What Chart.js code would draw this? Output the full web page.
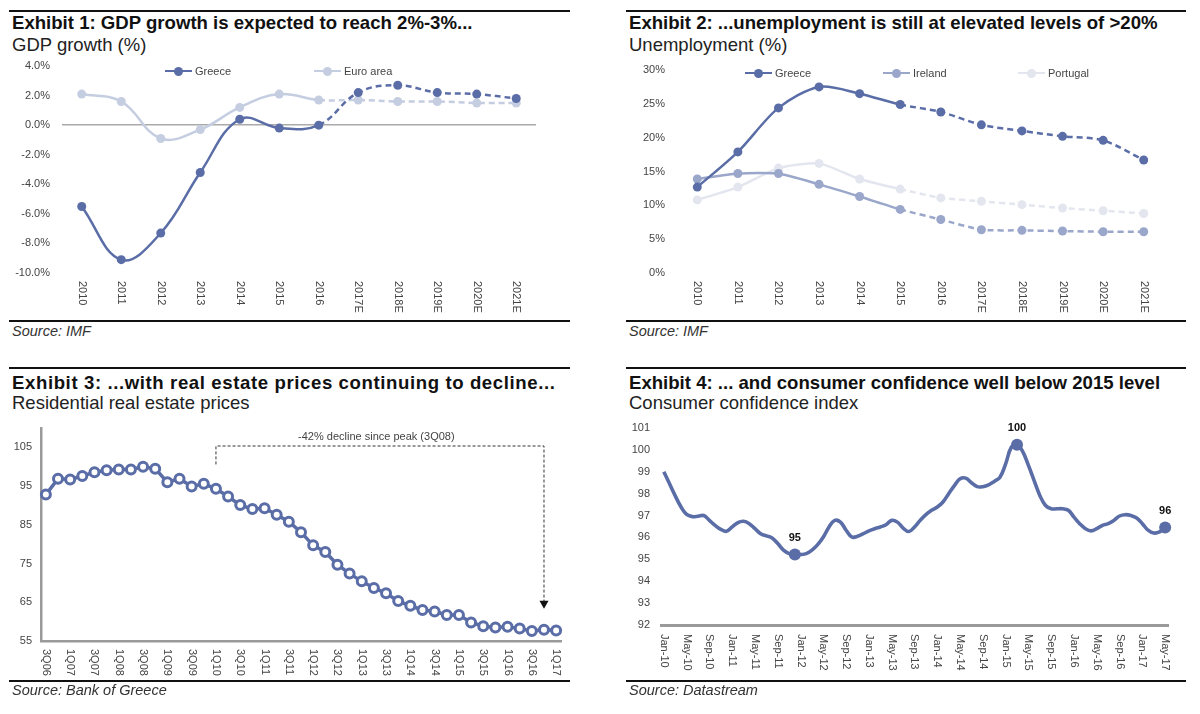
<!DOCTYPE html>
<html><head><meta charset="utf-8">
<script src="https://cdn.jsdelivr.net/npm/chart.js@4"></script>
<style>
body{margin:0;width:1200px;height:714px;background:#fff;position:relative;overflow:hidden;font-family:'Liberation Sans',Arial,sans-serif;color:#111}
.rule{position:absolute;height:2px;background:#111}
.title{position:absolute;font-size:18.6px;font-weight:bold;line-height:22px;white-space:nowrap;color:#111}
.sub{position:absolute;font-size:18.5px;line-height:22px;white-space:nowrap;color:#222}
.src{position:absolute;font-size:14.5px;font-style:italic;line-height:17px;color:#333;white-space:nowrap}
.lg{position:absolute;font-size:11px;color:#444;display:flex;align-items:center;height:14px;white-space:nowrap}
.lg i{position:relative;display:inline-block;width:27px;height:2px;margin-right:3px}
.lg i::after{content:'';position:absolute;left:9px;top:-3.5px;width:9px;height:9px;border-radius:50%;background:inherit}
canvas{position:absolute}
</style></head><body>

<div class="rule" style="left:9px;top:10px;width:561px"></div>
<div class="title" style="left:12px;top:12px">Exhibit 1: GDP growth is expected to reach 2%-3%...</div>
<div class="sub" style="left:12px;top:34px">GDP growth (%)</div>
<canvas id="c1" width="570" height="265" style="left:0;top:55px"></canvas>
<div class="lg" style="left:165px;top:64px"><i style="background:#5a6da7"></i>Greece</div>
<div class="lg" style="left:314px;top:64px"><i style="background:#c5cde1"></i>Euro area</div>
<div class="rule" style="left:9px;top:320px;width:561px"></div>
<div class="src" style="left:12px;top:323px">Source: IMF</div>

<div class="rule" style="left:626px;top:10px;width:560px"></div>
<div class="title" style="left:629px;top:12px">Exhibit 2: ...unemployment is still at elevated levels of &gt;20%</div>
<div class="sub" style="left:629px;top:34px">Unemployment (%)</div>
<canvas id="c2" width="580" height="265" style="left:620px;top:55px"></canvas>
<div class="lg" style="left:745px;top:66px"><i style="background:#5a6da7"></i>Greece</div>
<div class="lg" style="left:883px;top:66px"><i style="background:#9aa7cb"></i>Ireland</div>
<div class="lg" style="left:1018px;top:66px"><i style="background:#e3e6ee"></i>Portugal</div>
<div class="rule" style="left:626px;top:320px;width:560px"></div>
<div class="src" style="left:629px;top:323px">Source: IMF</div>

<div class="rule" style="left:9px;top:367px;width:561px"></div>
<div class="title" style="left:12px;top:372px;letter-spacing:0.6px">Exhibit 3: ...with real estate prices continuing to decline...</div>
<div class="sub" style="left:12px;top:392px">Residential real estate prices</div>
<canvas id="c3" width="570" height="268" style="left:0;top:415px"></canvas>
<div class="rule" style="left:9px;top:680px;width:561px"></div>
<div class="src" style="left:12px;top:682px">Source: Bank of Greece</div>

<div class="rule" style="left:626px;top:367px;width:560px"></div>
<div class="title" style="left:629px;top:372px">Exhibit 4: ... and consumer confidence well below 2015 level</div>
<div class="sub" style="left:629px;top:392px">Consumer confidence index</div>
<canvas id="c4" width="580" height="265" style="left:620px;top:415px"></canvas>
<div class="rule" style="left:626px;top:680px;width:560px"></div>
<div class="src" style="left:629px;top:682px">Source: Datastream</div>

<script>
// ---------- DATA ----------
const years = ['2010','2011','2012','2013','2014','2015','2016','2017E','2018E','2019E','2020E','2021E'];
const gdpGreece = [-5.5, -9.1, -7.3, -3.2, 0.4, -0.2, 0.0, 2.2, 2.7, 2.2, 2.1, 1.8];
const gdpEuro   = [2.1, 1.6, -0.9, -0.3, 1.2, 2.1, 1.7, 1.7, 1.6, 1.6, 1.5, 1.5];

const unempGreece   = [12.7, 17.9, 24.4, 27.5, 26.5, 24.9, 23.8, 21.9, 21.0, 20.2, 19.6, 16.7];
const unempIreland  = [13.9, 14.7, 14.7, 13.1, 11.3, 9.4, 7.9, 6.4, 6.3, 6.2, 6.1, 6.1];
const unempPortugal = [10.8, 12.7, 15.5, 16.2, 13.9, 12.4, 11.1, 10.6, 10.1, 9.6, 9.2, 8.8];

const quarters = ['3Q06','4Q06','1Q07','2Q07','3Q07','4Q07','1Q08','2Q08','3Q08','4Q08',
  '1Q09','2Q09','3Q09','4Q09','1Q10','2Q10','3Q10','4Q10','1Q11','2Q11','3Q11','4Q11',
  '1Q12','2Q12','3Q12','4Q12','1Q13','2Q13','3Q13','4Q13','1Q14','2Q14','3Q14','4Q14',
  '1Q15','2Q15','3Q15','4Q15','1Q16','2Q16','3Q16','4Q16','1Q17'];
const housePrices = [92.8, 96.9, 96.7, 97.6, 98.6, 99.1, 99.3, 99.3, 100.0, 99.5,
  96.0, 96.9, 94.9, 95.6, 94.3, 92.3, 90.1, 89.1, 89.3, 87.6, 85.8, 83.1,
  79.7, 78.0, 74.7, 72.4, 70.4, 68.7, 67.3, 65.3, 64.1, 63.0, 62.6, 61.7,
  61.7, 59.8, 58.8, 58.5, 58.7, 58.2, 57.6, 57.9, 57.7];
const houseTicks = [55, 65, 75, 85, 95, 105];

const months = ['Jan-10','Feb-10','Mar-10','Apr-10','May-10','Jun-10','Jul-10','Aug-10','Sep-10','Oct-10','Nov-10','Dec-10',
  'Jan-11','Feb-11','Mar-11','Apr-11','May-11','Jun-11','Jul-11','Aug-11','Sep-11','Oct-11','Nov-11','Dec-11',
  'Jan-12','Feb-12','Mar-12','Apr-12','May-12','Jun-12','Jul-12','Aug-12','Sep-12','Oct-12','Nov-12','Dec-12',
  'Jan-13','Feb-13','Mar-13','Apr-13','May-13','Jun-13','Jul-13','Aug-13','Sep-13','Oct-13','Nov-13','Dec-13',
  'Jan-14','Feb-14','Mar-14','Apr-14','May-14','Jun-14','Jul-14','Aug-14','Sep-14','Oct-14','Nov-14','Dec-14',
  'Jan-15','Feb-15','Mar-15','Apr-15','May-15','Jun-15','Jul-15','Aug-15','Sep-15','Oct-15','Nov-15','Dec-15',
  'Jan-16','Feb-16','Mar-16','Apr-16','May-16','Jun-16','Jul-16','Aug-16','Sep-16','Oct-16','Nov-16','Dec-16',
  'Jan-17','Feb-17','Mar-17','Apr-17','May-17'];
const confidence = [99.0, 98.45, 97.9, 97.4, 97.05, 96.95, 96.97, 97.0, 96.78, 96.55, 96.37, 96.28,
  96.48, 96.68, 96.74, 96.63, 96.4, 96.17, 96.07, 95.98, 95.72, 95.42, 95.26, 95.22,
  95.22, 95.26, 95.42, 95.67, 96.02, 96.48, 96.78, 96.7, 96.33, 96.02, 96.05, 96.17,
  96.3, 96.4, 96.48, 96.58, 96.78, 96.7, 96.43, 96.27, 96.48, 96.78, 97.04, 97.24,
  97.39, 97.62, 98.0, 98.37, 98.68, 98.71, 98.5, 98.32, 98.32, 98.4, 98.56, 98.75,
  99.36, 100.12, 100.24, 99.92, 99.29, 98.6, 97.92, 97.46, 97.31, 97.31, 97.31, 97.24,
  96.93, 96.63, 96.4, 96.3, 96.4, 96.55, 96.63, 96.78, 96.98, 97.04, 97.0, 96.89,
  96.63, 96.33, 96.2, 96.25, 96.45];
const confMarked = ['Dec-11', 'Mar-15', 'May-17'];

// ---------- STYLE ----------
const BLUE = '#5a6da7', EURO = '#c5cde1', IRL = '#9aa7cb', POR = '#e3e6ee';
const FONT = "'Liberation Sans', Arial, sans-serif";
Chart.defaults.font.family = FONT;
Chart.defaults.font.size = 11;
Chart.defaults.color = '#444';
const tickFont = {family: FONT, size: 11};

const fixY = w => s => { s.width = w; s.paddingTop = 0; s.paddingBottom = 0; };
const fixX = h => s => { s.height = h; s.paddingLeft = 0; s.paddingRight = 0; };

const vertLabels = {
  id: 'vertLabels',
  afterDraw(chart, args, opts) {
    const s = chart.scales.x, ctx = chart.ctx;
    ctx.save();
    ctx.font = '11px ' + FONT;
    ctx.fillStyle = '#444';
    ctx.textAlign = 'left';
    ctx.textBaseline = 'middle';
    s.ticks.forEach((t, i) => {
      const lbl = opts.labels[t.value];
      if (!lbl) return;
      const x = s.getPixelForTick(i);
      ctx.save();
      ctx.translate(x, s.top + opts.pad);
      ctx.rotate(Math.PI / 2);
      ctx.fillText(lbl, 0, 0);
      ctx.restore();
    });
    ctx.restore();
  }
};

const dashFrom = n => ({borderDash: c => c.p0DataIndex >= n ? [6, 4] : undefined});

// ---------- CHART 1 ----------
new Chart(document.getElementById('c1'), {
  type: 'line',
  data: {labels: years, datasets: [
    {label: 'Greece', data: gdpGreece, borderColor: BLUE, backgroundColor: BLUE, borderWidth: 2.5,
     pointRadius: 4.5, pointBorderWidth: 0, tension: 0.4, segment: dashFrom(6), clip: false},
    {label: 'Euro area', data: gdpEuro, borderColor: EURO, backgroundColor: EURO, borderWidth: 2.5,
     pointRadius: 4.5, pointBorderWidth: 0, tension: 0.4, segment: dashFrom(6), clip: false}
  ]},
  options: {
    responsive: false, animation: false,
    layout: {autoPadding: false, padding: {top: 11, right: 34, left: 0, bottom: 0}},
    plugins: {legend: {display: false}, tooltip: {enabled: false}, vertLabels: {labels: years, pad: 8}},
    scales: {
      x: {offset: true, grid: {display: false}, border: {display: false}, ticks: {display: false},
          afterFit: fixX(47)},
      y: {min: -10, max: 4, ticks: {stepSize: 2, font: tickFont, color: '#444', padding: 12,
            callback: v => v.toFixed(1) + '%'},
          grid: {drawTicks: false, lineWidth: 1.5, color: c => c.tick && c.tick.value === 0 ? '#aaaaaa' : 'rgba(0,0,0,0)'},
          border: {display: false}, afterFit: fixY(62)}
    }
  },
  plugins: [vertLabels]
});

// ---------- CHART 2 ----------
new Chart(document.getElementById('c2'), {
  type: 'line',
  data: {labels: years, datasets: [
    {label: 'Greece', data: unempGreece, borderColor: BLUE, backgroundColor: BLUE, borderWidth: 2.5,
     pointRadius: 4.5, pointBorderWidth: 0, tension: 0.3, segment: dashFrom(5), clip: false},
    {label: 'Ireland', data: unempIreland, borderColor: IRL, backgroundColor: IRL, borderWidth: 2.5,
     pointRadius: 4.5, pointBorderWidth: 0, tension: 0.2, segment: dashFrom(5), clip: false},
    {label: 'Portugal', data: unempPortugal, borderColor: POR, backgroundColor: POR, borderWidth: 2.5,
     pointRadius: 4.5, pointBorderWidth: 0, tension: 0.2, segment: dashFrom(5), clip: false}
  ]},
  options: {
    responsive: false, animation: false,
    layout: {autoPadding: false, padding: {top: 15, right: 36, left: 0, bottom: 0}},
    plugins: {legend: {display: false}, tooltip: {enabled: false}, vertLabels: {labels: years, pad: 8}},
    scales: {
      x: {offset: true, grid: {display: false}, border: {display: false}, ticks: {display: false},
          afterFit: fixX(47)},
      y: {min: 0, max: 30, ticks: {stepSize: 5, font: tickFont, color: '#444', padding: 12,
            callback: v => v + '%'},
          grid: {display: false, drawTicks: false}, border: {display: false},
          afterFit: fixY(57)}
    }
  },
  plugins: [vertLabels]
});

// ---------- CHART 3 ----------
const bracket = {
  id: 'bracket',
  afterDatasetsDraw(chart) {
    const x = chart.scales.x, y = chart.scales.y, ctx = chart.ctx;
    const xl = x.getPixelForValue(14), xr = x.getPixelForValue(41), yt = y.getPixelForValue(105.35);
    ctx.save();
    ctx.strokeStyle = '#333'; ctx.lineWidth = 1; ctx.setLineDash([3, 2]);
    ctx.beginPath();
    ctx.moveTo(xl, y.getPixelForValue(100.6)); ctx.lineTo(xl, yt);
    ctx.lineTo(xr, yt); ctx.lineTo(xr, y.getPixelForValue(65.2));
    ctx.stroke();
    ctx.setLineDash([]);
    ctx.fillStyle = '#111';
    const ya = y.getPixelForValue(65.4), yb = y.getPixelForValue(63.3);
    ctx.beginPath(); ctx.moveTo(xr - 4.5, ya); ctx.lineTo(xr + 4.5, ya); ctx.lineTo(xr, yb); ctx.closePath(); ctx.fill();
    ctx.font = '11px ' + FONT; ctx.fillStyle = '#444'; ctx.textAlign = 'center'; ctx.textBaseline = 'middle';
    ctx.fillText('-42% decline since peak (3Q08)', x.getPixelForValue(27.2), y.getPixelForValue(107.6));
    ctx.restore();
  }
};
new Chart(document.getElementById('c3'), {
  type: 'line',
  data: {datasets: [
    {label: 'Residential real estate prices', data: housePrices.map((v, i) => ({x: i, y: v})),
     borderColor: BLUE, borderWidth: 3.5, pointRadius: 4.5, pointBorderWidth: 3,
     pointBorderColor: BLUE, pointBackgroundColor: '#fff', tension: 0, clip: false}
  ]},
  options: {
    responsive: false, animation: false,
    layout: {autoPadding: false, padding: {top: 13, right: 9, left: 0, bottom: 0}},
    plugins: {legend: {display: false}, tooltip: {enabled: false}, vertLabels: {labels: quarters, pad: 8}},
    scales: {
      x: {type: 'linear', min: -0.4, max: 42.4, grid: {display: false, drawTicks: false},
          border: {display: true, color: '#9a9a9a', width: 2.5}, ticks: {display: false},
          afterBuildTicks: s => { s.ticks = quarters.map((q, i) => ({value: i})).filter(t => t.value % 2 === 0); },
          afterFit: fixX(42)},
      y: {min: 55, max: 110, ticks: {font: tickFont, color: '#444', padding: 9},
          afterBuildTicks: s => { s.ticks = houseTicks.map(v => ({value: v})); },
          grid: {display: false, drawTicks: false}, border: {display: true, color: '#9a9a9a', width: 2.5},
          afterFit: fixY(41)}
    }
  },
  plugins: [vertLabels, bracket]
});

// ---------- CHART 4 ----------
const markIdx = confMarked.map(m => months.indexOf(m));
const pointLabels = {
  id: 'pointLabels',
  afterDatasetsDraw(chart) {
    const meta = chart.getDatasetMeta(0), ctx = chart.ctx;
    ctx.save();
    ctx.font = 'bold 11px ' + FONT; ctx.fillStyle = '#111'; ctx.textAlign = 'center'; ctx.textBaseline = 'middle';
    markIdx.forEach(i => {
      const p = meta.data[i];
      ctx.fillText(String(Math.round(confidence[i])), p.x, p.y - 17);
    });
    ctx.restore();
  }
};
new Chart(document.getElementById('c4'), {
  type: 'line',
  data: {datasets: [
    {label: 'Consumer confidence index', data: confidence.map((v, i) => ({x: i, y: v})),
     borderColor: BLUE, backgroundColor: BLUE, borderWidth: 3.6, tension: 0.4, pointBorderWidth: 0,
     pointRadius: c => markIdx.includes(c.dataIndex) ? 6 : 0, clip: false}
  ]},
  options: {
    responsive: false, animation: false,
    layout: {autoPadding: false, padding: {top: 13, right: 32, left: 0, bottom: 0}},
    plugins: {legend: {display: false}, tooltip: {enabled: false}, vertLabels: {labels: months, pad: 9}},
    scales: {
      x: {type: 'linear', min: -0.5, max: 88.5, grid: {display: false, drawTicks: false},
          border: {display: true, color: '#9a9a9a', width: 3}, ticks: {display: false},
          afterBuildTicks: s => { s.ticks = months.map((m, i) => ({value: i})).filter(t => t.value % 4 === 0); },
          afterFit: fixX(55)},
      y: {min: 92, max: 101, ticks: {stepSize: 1, font: tickFont, color: '#444', padding: 11},
          grid: {display: false, drawTicks: false}, border: {display: false},
          afterFit: fixY(41)}
    }
  },
  plugins: [vertLabels, pointLabels]
});
</script>
</body></html>
